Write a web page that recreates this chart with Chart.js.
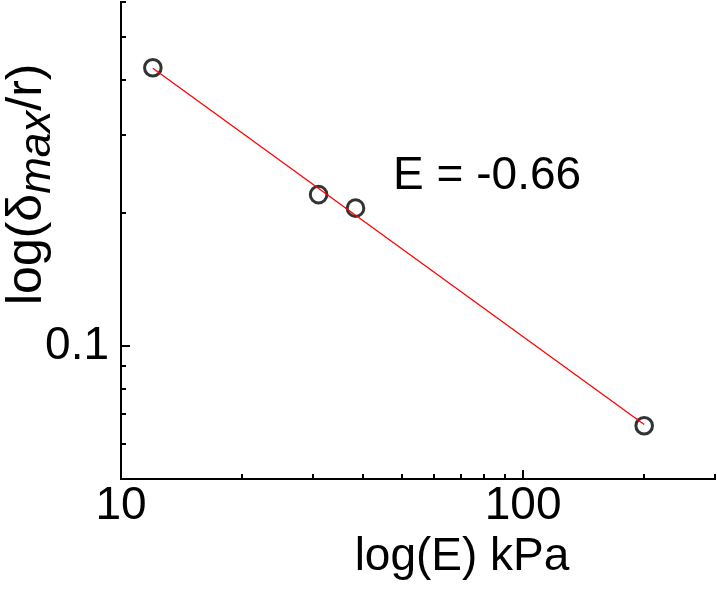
<!DOCTYPE html>
<html>
<head>
<meta charset="utf-8">
<script src="https://cdn.jsdelivr.net/npm/chart.js@4.4.1/dist/chart.umd.min.js"></script>
<style>
  html, body { margin: 0; padding: 0; background: #fff; }
  #wrap { width: 717px; height: 589px; }
</style>
</head>
<body>
<div id="wrap"><canvas id="fitChart"></canvas></div>
<script>
// measured points (E in kPa, delta_max / r)
const modulus = [12, 31, 38.3, 200];
const deflection = [0.426, 0.220, 0.205, 0.066];

// power-law fit line, slope -0.66
const fitX = [12, 200];
const fitY = [0.425, 0.0664];

const xTicks = [10, 20, 30, 40, 50, 60, 70, 80, 90, 100, 200, 300];
const yTicks = [0.05, 0.06, 0.07, 0.08, 0.09, 0.1, 0.2, 0.3, 0.4, 0.5, 0.6];
const xLabels = [10, 100];
const yLabels = [0.1];
const slopeText = 'E = -0.66';

const FONT = '"Liberation Sans", Arial, sans-serif';

const axisDecor = {
    id: 'axisDecor',
    afterDraw(chart) {
        const ctx = chart.ctx;
        const a = chart.chartArea;
        const x = chart.scales.x;
        const y = chart.scales.y;
        ctx.save();
        ctx.strokeStyle = '#000';
        ctx.lineWidth = 2;
        // inward tick marks
        xTicks.forEach(function(v) {
            const px = Math.round(x.getPixelForValue(v));
            const len = xLabels.includes(v) ? 9 : 5;
            ctx.beginPath();
            ctx.moveTo(px, a.bottom);
            ctx.lineTo(px, a.bottom - len);
            ctx.stroke();
        });
        yTicks.forEach(function(v) {
            const py = Math.round(y.getPixelForValue(v));
            const len = yLabels.includes(v) ? 9 : 5;
            ctx.beginPath();
            ctx.moveTo(a.left, py);
            ctx.lineTo(a.left + len, py);
            ctx.stroke();
        });

        ctx.fillStyle = '#000';
        ctx.textBaseline = 'alphabetic';

        // slope annotation
        ctx.font = '46px ' + FONT;
        ctx.textAlign = 'left';
        ctx.fillText(slopeText, x.getPixelForValue(47.5), y.getPixelForValue(0.226));

        // x title
        ctx.textAlign = 'center';
        ctx.fillText('log(E) kPa', 462, 570);

        // y title with subscript
        ctx.translate(41, 305);
        ctx.rotate(-Math.PI / 2);
        ctx.textAlign = 'left';
        let cx = 0;
        ctx.font = '50px ' + FONT;
        ctx.fillText('log(\u03b4', cx, 0);
        cx += ctx.measureText('log(\u03b4').width;
        ctx.font = 'italic 44px ' + FONT;
        ctx.fillText('max', cx, 9);
        cx += ctx.measureText('max').width;
        ctx.font = '50px ' + FONT;
        ctx.fillText('/r)', cx, 0);
        ctx.restore();
    }
};

document.addEventListener('DOMContentLoaded', function() {
    const ctx = document.getElementById('fitChart').getContext('2d');
    new Chart(ctx, {
        type: 'scatter',
        data: {
            datasets: [{
                label: 'points',
                data: modulus.map((v, i) => ({ x: v, y: deflection[i] })),
                pointStyle: 'circle',
                pointRadius: 8.3,
                borderWidth: 3,
                borderColor: '#333333',
                backgroundColor: 'rgba(0,0,0,0)',
                order: 2
            }, {
                label: 'fit',
                type: 'line',
                data: fitX.map((v, i) => ({ x: v, y: fitY[i] })),
                borderColor: '#ff0000',
                borderWidth: 1.3,
                pointRadius: 0,
                fill: false,
                order: 1
            }]
        },
        options: {
            responsive: true,
            maintainAspectRatio: false,
            animation: false,
            layout: { autoPadding: false, padding: { top: 2, right: 2, left: 0, bottom: 0 } },
            plugins: {
                legend: { display: false },
                tooltip: { enabled: false }
            },
            scales: {
                x: {
                    type: 'logarithmic',
                    min: 10,
                    max: 300,
                    afterBuildTicks: function(scale) {
                        scale.ticks = xTicks.map(v => ({ value: v }));
                    },
                    afterFit: function(scale) {
                        scale.height = 110;
                        scale.paddingLeft = 0;
                        scale.paddingRight = 0;
                    },
                    ticks: {
                        autoSkip: false,
                        maxRotation: 0,
                        padding: 0,
                        color: '#000',
                        font: { family: FONT, size: 46 },
                        callback: function(value) {
                            return xLabels.includes(value) ? String(value) : null;
                        }
                    },
                    grid: { display: true, drawOnChartArea: false, drawTicks: false },
                    border: { display: true, color: '#000', width: 2 }
                },
                y: {
                    type: 'logarithmic',
                    min: 0.05,
                    max: 0.6,
                    afterBuildTicks: function(scale) {
                        scale.ticks = yTicks.map(v => ({ value: v }));
                    },
                    afterFit: function(scale) {
                        scale.width = 121;
                        scale.paddingTop = 0;
                        scale.paddingBottom = 0;
                    },
                    ticks: {
                        autoSkip: false,
                        padding: 12,
                        color: '#000',
                        font: { family: FONT, size: 46 },
                        callback: function(value) {
                            return yLabels.includes(value) ? String(value) : null;
                        }
                    },
                    grid: { display: true, drawOnChartArea: false, drawTicks: false },
                    border: { display: true, color: '#000', width: 2 }
                }
            }
        },
        plugins: [axisDecor]
    });
});
</script>
</body>
</html>
